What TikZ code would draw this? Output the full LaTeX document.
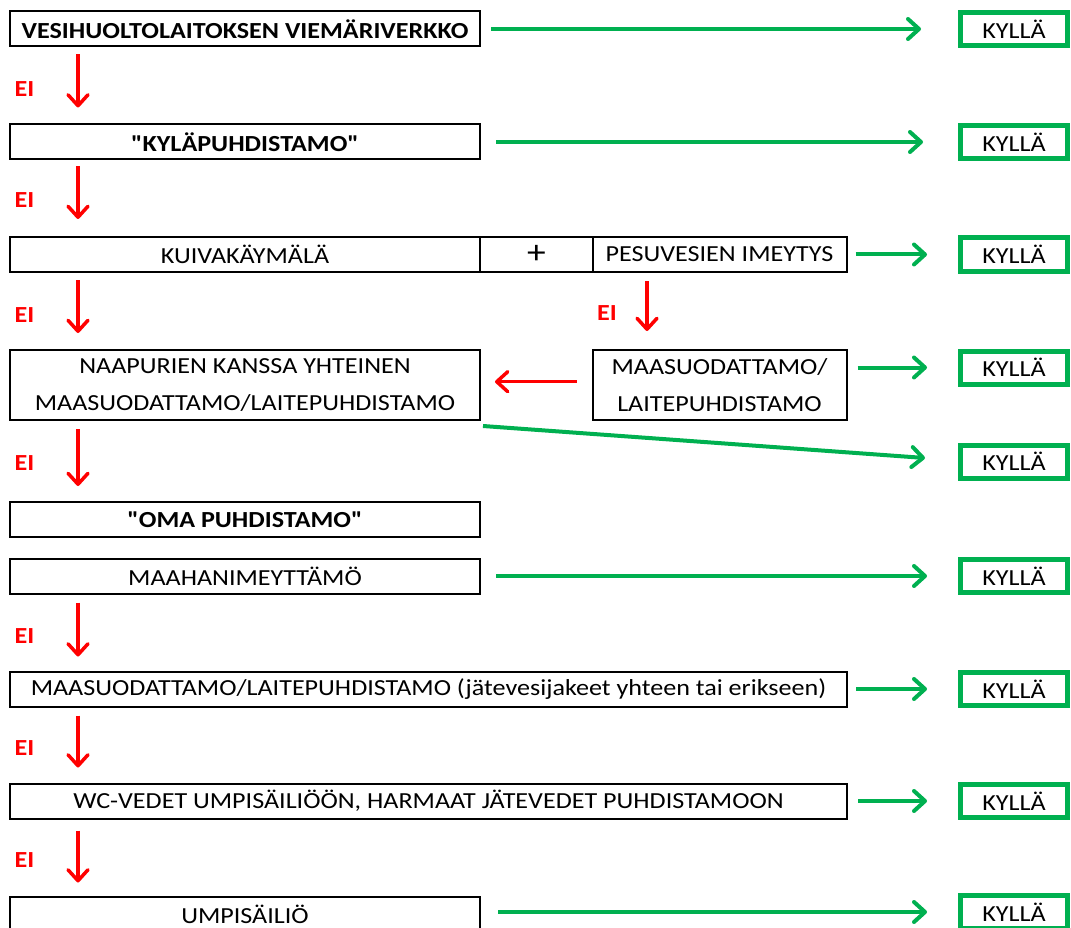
\documentclass[tikz,border=0pt]{standalone}
\usepackage{fontspec}
\newfontfamily\calib{Carlito}[FakeStretch=1.135]
\usetikzlibrary{arrows.meta}
\definecolor{okgreen}{HTML}{00B050}
\definecolor{nored}{HTML}{FF0000}
\begin{document}
\begin{tikzpicture}[x=1pt,y=-1pt,
  box/.style={draw=black,line width=2pt,rectangle,inner sep=0pt,minimum height=35pt,font=\calib\fontsize{23}{27}\selectfont},
  bbox/.style={box,font=\calib\fontsize{23}{27}\selectfont\bfseries},
  okbox/.style={draw=okgreen,line width=5pt,rectangle,inner sep=0pt,minimum width=107pt,minimum height=33pt,font=\calib\fontsize{23}{27}\selectfont},
  garr/.style={draw=okgreen,line width=4pt,-{Straight Barb[length=11pt,width=20pt,line cap=round,line join=round]}},
  rarr/.style={draw=nored,line width=3.5pt,-{Straight Barb[length=11pt,width=20pt,line cap=round,line join=round]}},
  eilab/.style={text=nored,inner sep=0pt,font=\calib\fontsize{23}{27}\selectfont\bfseries}]
\useasboundingbox (0,0) rectangle (1071,928);
\clip (0,0) rectangle (1071,928);
% boxes
\node[bbox,minimum width=470pt] (b1) at (245,29) {VESIHUOLTOLAITOKSEN VIEMÄRIVERKKO};
\node[bbox,minimum width=470pt] (b2) at (245,142) {"KYLÄPUHDISTAMO"};
\node[box,minimum width=470pt] (b3a) at (245,254.5) {KUIVAKÄYMÄLÄ};
\node[box,minimum width=113pt,font=\calib\fontsize{33}{37}\selectfont] (b3b) at (536.5,254.5) {\raisebox{-4pt}{+}};
\node[box,minimum width=254pt] (b3c) at (719.5,254.5) {PESUVESIEN IMEYTYS};
\node[box,minimum width=470pt,minimum height=70pt,align=center,font=\calib\fontsize{23}{37}\selectfont] (b4a) at (245,385) {NAAPURIEN KANSSA YHTEINEN\\MAASUODATTAMO/LAITEPUHDISTAMO};
\node[box,minimum width=254pt,minimum height=70pt,align=center,font=\calib\fontsize{23}{37}\selectfont] (b4b) at (719.5,385) {MAASUODATTAMO/\\LAITEPUHDISTAMO};
\node[bbox,minimum width=470pt] (b5) at (245,519.5) {"OMA PUHDISTAMO"};
\node[box,minimum width=470pt] (b6) at (245,576) {MAAHANIMEYTTÄMÖ};
\node[box,minimum width=837pt] (b7) at (428.5,689) {MAASUODATTAMO/LAITEPUHDISTAMO (jätevesijakeet yhteen tai erikseen)};
\node[box,minimum width=837pt] (b8) at (428.5,801) {WC-VEDET UMPISÄILIÖÖN, HARMAAT JÄTEVEDET PUHDISTAMOON};
\node[box,minimum width=470pt] (b9) at (245,914) {UMPISÄILIÖ};
% KYLLÄ boxes
\node[okbox] (k1) at (1014,29) {KYLLÄ};
\node[okbox] (k2) at (1014,142) {KYLLÄ};
\node[okbox] (k3) at (1014,254.5) {KYLLÄ};
\node[okbox] (k4) at (1014,367.5) {KYLLÄ};
\node[okbox] (k5) at (1014,461.5) {KYLLÄ};
\node[okbox] (k6) at (1014,576) {KYLLÄ};
\node[okbox] (k7) at (1014,689) {KYLLÄ};
\node[okbox] (k8) at (1014,801) {KYLLÄ};
\node[okbox] (k9) at (1014,912) {KYLLÄ};
% EI labels
\node[eilab] (e1) at (24.5,89.5) {EI};
\node[eilab] (e2) at (24.5,200.5) {EI};
\node[eilab] (e3) at (24.5,315) {EI};
\node[eilab] (e3b) at (607,313.5) {EI};
\node[eilab] (e4) at (24.5,463) {EI};
\node[eilab] (e6) at (24.5,636) {EI};
\node[eilab] (e7) at (24.5,748.5) {EI};
\node[eilab] (e8) at (24.5,860) {EI};
% green arrows
\draw[garr] ([xshift=10pt]b1.east) -- ([xshift=-37pt]k1.west);
\draw[garr] ([xshift=15pt]b2.east) -- ([xshift=-35pt]k2.west);
\draw[garr] ([xshift=8pt]b3c.east) -- ([xshift=-31pt]k3.west);
\draw[garr] ([xshift=10pt]b4b.east |- k4.west) -- ([xshift=-31pt]k4.west);
\draw[garr] ([xshift=2pt,yshift=-5pt]b4a.south east) -- ([xshift=-33pt,yshift=3.5pt]k5.west);
\draw[garr] ([xshift=15pt]b6.east) -- ([xshift=-31pt]k6.west);
\draw[garr] ([xshift=8pt]b7.east) -- ([xshift=-31pt]k7.west);
\draw[garr] ([xshift=10pt]b8.east) -- ([xshift=-31pt]k8.west);
\draw[garr] ([xshift=17pt]b9.east |- k9.west) -- ([xshift=-31pt]k9.west);
% red arrows
\draw[rarr] ([xshift=69pt,yshift=-7pt]b1.south west) -- ([xshift=69pt,yshift=16pt]b2.north west);
\draw[rarr] ([xshift=69pt,yshift=-6pt]b2.south west) -- ([xshift=69pt,yshift=17pt]b3a.north west);
\draw[rarr] ([xshift=69pt,yshift=-7pt]b3a.south west) -- ([xshift=69pt,yshift=16pt]b4a.north west);
\draw[rarr] ([xshift=55.5pt,yshift=-8pt]b3c.south west) -- ([xshift=55.5pt,yshift=18pt]b4b.north west);
\draw[rarr] ([xshift=-15pt,yshift=3.3pt]b4b.west) -- ([xshift=14pt,yshift=3.3pt]b4a.east);
\draw[rarr] ([xshift=69pt,yshift=-8pt]b4a.south west) -- ([xshift=69pt,yshift=15pt]b5.north west);
\draw[rarr] ([xshift=69pt,yshift=-8pt]b6.south west) -- ([xshift=69pt,yshift=14pt]b7.north west);
\draw[rarr] ([xshift=69pt,yshift=-8pt]b7.south west) -- ([xshift=69pt,yshift=15pt]b8.north west);
\draw[rarr] ([xshift=69pt,yshift=-11pt]b8.south west) -- ([xshift=69pt,yshift=13pt]b9.north west);
\end{tikzpicture}
\end{document}
